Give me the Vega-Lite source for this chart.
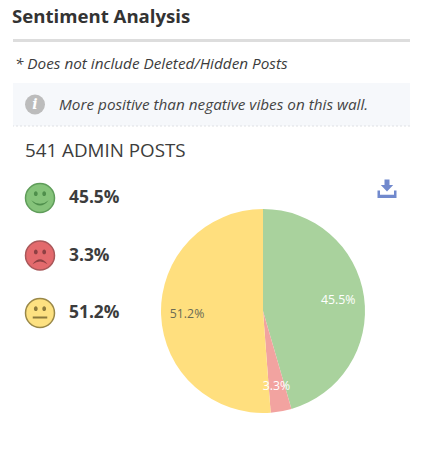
{
"$schema":"https://vega.github.io/schema/vega-lite/v6.json",
"padding":{"left":12,"top":8,"right":22,"bottom":0},
"background":"#ffffff",
"bounds":"flush",
"spacing":0,
"title":{"text":"Sentiment Analysis","anchor":"start","frame":"group","font":"Open Sans","fontSize":18.6,"fontWeight":"bold","color":"#333333","offset":13,"dx":-1,"dy":1},
"config":{"view":{"stroke":null},"concat":{"spacing":0},"font":"Open Sans"},
"datasets":{"sentiment":[
{"sentiment":"Positive","share":45.5,"label":"45.5%","order":1},
{"sentiment":"Negative","share":3.3,"label":"3.3%","order":2},
{"sentiment":"Neutral","share":51.2,"label":"51.2%","order":3}
]},
"vconcat":[
{"width":397,"height":3,"data":{"values":[{"part":"divider"}]},"mark":{"type":"rect","fill":"#dddddd"}},
{"width":397,"height":41,"data":{"values":[{"note":"* Does not include Deleted/Hidden Posts"}]},
"mark":{"type":"text","align":"left","dy":1,"font":"Open Sans","fontStyle":"italic","fontSize":15.3,"color":"#3c3c3c"},
"encoding":{"x":{"datum":"note","type":"nominal","axis":null,"scale":{"type":"point","padding":0,"range":[2,2]}},"text":{"field":"note"}}},
{"width":397,"height":43,"data":{"values":[{"insight":"More positive than negative vibes on this wall."}]},
"encoding":{"x":{"datum":"text","type":"nominal","axis":null,"scale":{"type":"point","padding":0,"domain":["icon","text"],"range":[22,46]}}},
"layer":[
{"mark":{"type":"rect","fill":"#f6f8fb"},"encoding":{"x":{"value":0},"x2":{"value":397}}},
{"mark":{"type":"point","shape":"circle","filled":true,"size":400,"color":"#bcbcbc","opacity":1},"encoding":{"x":{"datum":"icon","type":"nominal"}}},
{"mark":{"type":"text","text":"i","font":"DejaVu Serif","fontWeight":"bold","fontStyle":"italic","fontSize":14,"color":"#ffffff"},"encoding":{"x":{"datum":"icon","type":"nominal"}}},
{"mark":{"type":"text","align":"left","font":"Open Sans","fontStyle":"italic","fontSize":15.3,"color":"#444444"},"encoding":{"text":{"field":"insight"}}}
]},
{"width":397,"height":1,"data":{"values":[{"part":"edge"}]},"mark":{"type":"rule","stroke":"#dfe1e4","strokeDash":[2,2]},"encoding":{"y":{"value":0}}},
{"width":397,"height":45,"data":{"values":[{"count":"541 ADMIN POSTS"}]},
"mark":{"type":"text","align":"left","dy":1,"font":"Open Sans","fontSize":18.8,"color":"#3c3c3c"},
"encoding":{"x":{"datum":"count","type":"nominal","axis":null,"scale":{"type":"point","padding":0,"range":[12,12]}},"text":{"field":"count"}}},
{"hconcat":[
{"width":148,"height":166,"data":{"name":"sentiment"},
"encoding":{"y":{"field":"sentiment","type":"nominal","axis":null,"sort":null,"scale":{"type":"point","padding":0,"domain":["Positive","Negative","Neutral"],"range":[26,141]}}},
"layer":[
{"mark":{"type":"point","shape":"circle","filled":true,"size":841,"strokeWidth":1.5,"opacity":1},
"encoding":{"x":{"datum":"face","type":"nominal","axis":null,"scale":{"type":"point","padding":0,"domain":["face","share"],"range":[27,56]}},
"fill":{"field":"sentiment","type":"nominal","legend":null,"scale":{"domain":["Positive","Negative","Neutral"],"range":["#85c37a","#e36a6d","#fde181"]}},
"stroke":{"field":"sentiment","type":"nominal","legend":null,"scale":{"domain":["Positive","Negative","Neutral"],"range":["#5f9d5a","#a9585a","#9a8848"]}}}},
{"mark":{"type":"point","filled":true,"size":841,"strokeWidth":0,"opacity":1},
"encoding":{"x":{"datum":"face","type":"nominal"},
"shape":{"field":"sentiment","type":"nominal","legend":null,"scale":{"domain":["Positive","Negative","Neutral"],"range":[
"M-.42 -.3a.13 .16 0 1 0 .26 0a.13 .16 0 1 0 -.26 0ZM.16 -.3a.13 .16 0 1 0 .26 0a.13 .16 0 1 0 -.26 0ZM-.6 .15Q0 .9 .6 .15Q0 .65 -.6 .15Z",
"M-.42 -.25a.13 .16 0 1 0 .26 0a.13 .16 0 1 0 -.26 0ZM.16 -.25a.13 .16 0 1 0 .26 0a.13 .16 0 1 0 -.26 0ZM-.52 .6Q0 -.1 .52 .6Q0 .22 -.52 .6Z",
"M-.42 -.3a.13 .16 0 1 0 .26 0a.13 .16 0 1 0 -.26 0ZM.16 -.3a.13 .16 0 1 0 .26 0a.13 .16 0 1 0 -.26 0ZM-.5 .24H.5V.38H-.5Z"]}},
"fill":{"field":"sentiment","type":"nominal","legend":null,"scale":{"domain":["Positive","Negative","Neutral"],"range":["#4f8f4c","#8e4043","#8c7a3c"]}}}},
{"mark":{"type":"text","align":"left","font":"Open Sans","fontWeight":"bold","fontSize":17.4,"color":"#3c3c3c"},
"encoding":{"x":{"datum":"share","type":"nominal"},"text":{"field":"label"}}}
],
"resolve":{"scale":{"fill":"independent"}}},
{"vconcat":[
{"width":248,"height":37,"data":{"values":[{"action":"download"}]},
"mark":{"type":"point","filled":true,"size":400,"color":"#7189cd","opacity":1,"strokeWidth":0,
"shape":"M-.25 -1.1H.25V-.55H.62L0 .1L-.62 -.55H-.25ZM-.95 0H-.7V.42H.7V0H.95V.75H-.95Z"},
"encoding":{"x":{"field":"action","type":"nominal","axis":null,"scale":{"type":"point","padding":0,"range":[226,226]}}}},
{"width":204,"height":204,"data":{"name":"sentiment"},
"encoding":{"theta":{"field":"share","type":"quantitative","stack":true},"order":{"field":"order","type":"quantitative"}},
"layer":[
{"mark":{"type":"arc"},"encoding":{"color":{"field":"sentiment","type":"nominal","legend":null,"scale":{"domain":["Positive","Negative","Neutral"],"range":["#a9d29d","#f2a3a0","#ffdf7e"]}}}},
{"mark":{"type":"text","font":"Open Sans","fontSize":12.3},
"encoding":{"radius":{"value":76},"text":{"field":"label"},
"color":{"condition":{"test":"datum.sentiment === 'Neutral'","value":"#6b6b55"},"value":"#ffffff"}}}
]}
]}
]}
]
}
